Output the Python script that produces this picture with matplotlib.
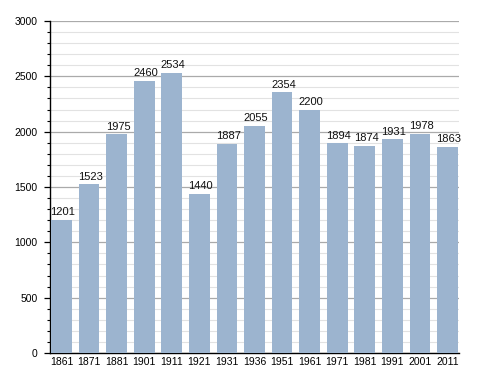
import matplotlib
matplotlib.use("Agg")
import matplotlib.pyplot as plt
from matplotlib.ticker import MultipleLocator

years = ["1861", "1871", "1881", "1901", "1911", "1921", "1931", "1936",
         "1951", "1961", "1971", "1981", "1991", "2001", "2011"]
population = [1201, 1523, 1975, 2460, 2534, 1440, 1887, 2055,
              2354, 2200, 1894, 1874, 1931, 1978, 1863]

plt.rcParams['font.family'] = ['Liberation Sans', 'DejaVu Sans']

fig = plt.figure(figsize=(4.88, 3.73), dpi=100)
ax = fig.add_axes([50/488, 20/373, 409/488, 332/373])

x = list(range(len(years)))
ax.bar(x, population, width=0.75, color='#9cb4cf', zorder=3)
for xi, v in zip(x, population):
    ax.text(xi + 0.05, v + 25, str(v), ha='center', va='bottom', fontsize=8, color='#111111', zorder=4)

ax.set_xlim(-0.42, 14.42)
ax.set_ylim(0, 3000)
ax.set_xticks(x)
ax.set_xticklabels(years, fontsize=7.5)
ax.tick_params(axis='x', length=0, pad=3)
ax.yaxis.set_major_locator(MultipleLocator(500))
ax.yaxis.set_minor_locator(MultipleLocator(100))
ax.tick_params(axis='y', which='major', length=4, width=0.9, labelsize=7.5, pad=5)
ax.tick_params(axis='y', which='minor', length=2, width=0.8)
ax.grid(axis='y', which='major', color='#aaaaaa', linewidth=0.9, zorder=1)
ax.grid(axis='y', which='minor', color='#e2e2e2', linewidth=0.8, zorder=0)
for s in ['top', 'right']:
    ax.spines[s].set_visible(False)
ax.spines['left'].set_linewidth(1.0)
ax.spines['bottom'].set_linewidth(1.0)

fig.savefig("out.png", dpi=100)
